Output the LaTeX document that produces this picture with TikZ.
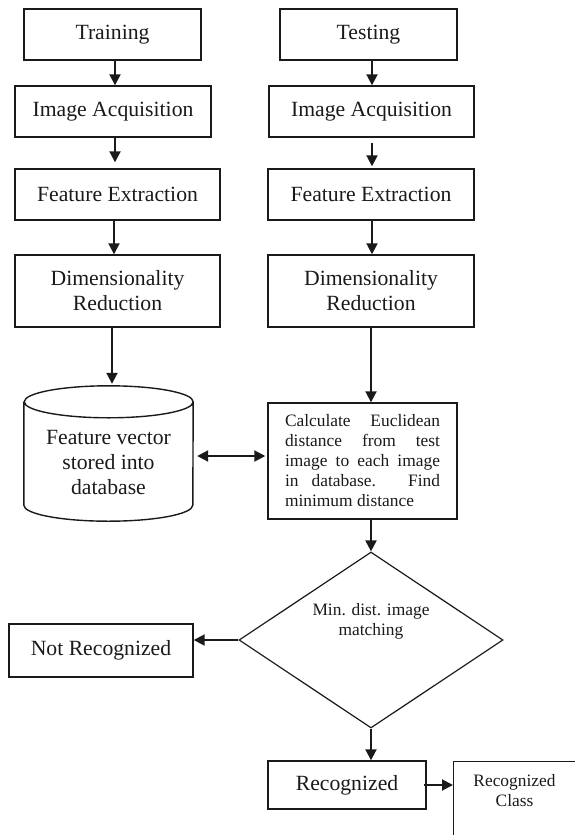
\documentclass[tikz,border=0pt]{standalone}
\usepackage{fontspec}
\setmainfont{Liberation Serif}
\usetikzlibrary{arrows.meta,shapes.geometric}
\definecolor{ink}{HTML}{1A1A1A}
\newcommand{\bigtext}{\fontsize{21.7pt}{25pt}\selectfont}
\newcommand{\smalltext}{\fontsize{17.4pt}{20pt}\selectfont}
\newcommand{\jline}[1]{\makebox[155pt][s]{#1}}
\begin{document}
\begin{tikzpicture}[x=1pt,y=1pt,
  every node/.style={text=ink},
  box/.style={draw=ink, line width=1.4pt, inner sep=0pt, align=center, font=\bigtext},
  plain/.style={inner sep=0pt, align=center},
  arr/.style={draw=ink, line width=2pt, -{Triangle[length=11pt,width=11pt]}},
  dblarr/.style={draw=ink, line width=2pt, {Triangle[length=11pt,width=11pt]}-{Triangle[length=11pt,width=11pt]}}]
\useasboundingbox (0,0) rectangle (575,-835);
\clip (0,0) rectangle (575,-835);

% training column
\node[box, minimum width=177pt, minimum height=51pt] (tr)  at (112.5,-34.5) {Training};
\node[box, minimum width=196pt, minimum height=51pt] (ia1) at (113,-111.5) {Image Acquisition};
\node[box, minimum width=205pt, minimum height=51pt] (fe1) at (117.5,-194.5) {Feature Extraction};
\node[box, minimum width=205pt, minimum height=72pt] (dr1) at (117.5,-291) {Dimensionality\\Reduction};

% testing column
\node[box, minimum width=177pt, minimum height=51pt] (ts)  at (368.5,-34.5) {Testing};
\node[box, minimum width=205pt, minimum height=51pt] (ia2) at (371.5,-111.5) {Image Acquisition};
\node[box, minimum width=206pt, minimum height=51pt] (fe2) at (371,-194.5) {Feature Extraction};
\node[box, minimum width=206pt, minimum height=72pt] (dr2) at (371,-291) {Dimensionality\\Reduction};

% feature database (cylinder)
\node[plain, minimum width=169pt, minimum height=135pt] (db) at (108.5,-453.5) {};
\draw[draw=ink, line width=1.4pt]
  ([yshift=-16pt]db.north west) -- ([yshift=16pt]db.south west)
  arc[start angle=180, end angle=360, x radius=84.5pt, y radius=16pt]
  -- ([yshift=-16pt]db.north east)
  arc[start angle=0, end angle=360, x radius=84.5pt, y radius=16pt];
\node[plain, font=\bigtext] (dbl) at (108.5,-462) {Feature vector\\stored into\\database};

% distance computation
\node[box, minimum width=189pt, minimum height=116pt, align=left, font=\smalltext] (calc) at (362.5,-461)
  {\jline{Calculate Euclidean}\\\jline{distance from test}\\\jline{image to each image}\\\jline{in database. Find}\\minimum distance};

% decision
\node[diamond, draw=ink, line width=1.2pt, inner sep=0pt, aspect=1.5,
      minimum width=264pt, minimum height=176pt] (dec) at (371,-640) {};
\node[plain, font=\smalltext] (decl) at (371,-621) {Min. dist. image\\matching};

% outcomes
\node[box, minimum width=184pt, minimum height=53pt] (nr)  at (101,-650.5) {Not Recognized};
\node[box, minimum width=158pt, minimum height=48pt] (rec) at (347,-785) {Recognized};
\node[box, anchor=north west, minimum width=160pt, minimum height=120pt] (cls) at (453,-761) {};
\node[plain, font=\smalltext] (clsl) at (514.5,-791) {Recognized\\Class};

% connectors (vertical shafts at fixed x)
\draw[arr] (tr.south -| 115,0) -- (ia1.north -| 115,0);
\draw[arr, shorten >=6pt] (ia1.south -| 115,0) -- (fe1.north -| 115,0);
\draw[arr] (fe1.south -| 114,0) -- (dr1.north -| 114,0);
\draw[arr] (ts.south -| 372,0) -- (ia2.north -| 372,0);
\draw[arr, shorten <=5pt, shorten >=2pt] (ia2.south -| 372,0) -- (fe2.north -| 372,0);
\draw[arr] (fe2.south -| 372,0) -- (dr2.north -| 372,0);
\draw[arr, shorten >=2pt] (dr1.south -| 112,0) -- (db.north -| 112,0);
\draw[arr] (dr2.south) -- (dr2.south |- calc.north);
\draw[dblarr, shorten <=4pt, shorten >=2pt] (db.east |- 0,-456) -- (calc.west |- 0,-456);
\draw[arr] (calc.south -| dec.north) -- (dec.north);
\draw[arr] (dec.west) -- (nr.east |- dec.west);
\draw[arr] (dec.south) -- (dec.south |- rec.north);
\draw[arr] ([xshift=-3pt]rec.east) -- (cls.west |- rec.east);
\end{tikzpicture}
\end{document}
